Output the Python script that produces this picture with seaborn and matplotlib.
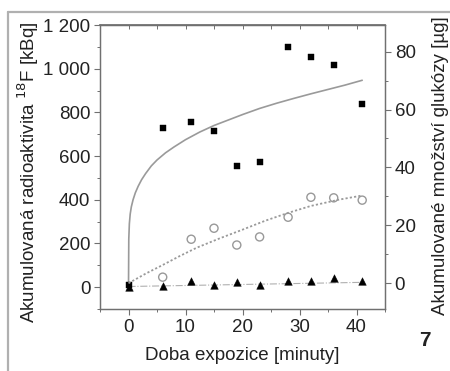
import numpy as np
import pandas as pd
import matplotlib
matplotlib.use("Agg")
import matplotlib.pyplot as plt
from matplotlib.lines import Line2D
from matplotlib.ticker import MultipleLocator, FixedLocator
import seaborn as sns

time_min = [0, 6, 11, 15, 19, 23, 28, 32, 36, 41]
activity_kbq = [10, 728, 757, 716, 553, 574, 1098, 1055, 1018, 840]
control_kbq = [2, 4, 30, 11, 25, 12, 26, 29, 41, 26]
# glucose point at t=0 is hidden under the square in the reference
glucose_time = [6, 11, 15, 19, 23, 28, 32, 36, 41]
glucose_ug = [2.1, 15.2, 19.0, 13.2, 16.0, 22.8, 29.7, 29.5, 28.7]

# Trend lines
fit_time = [0, 0.05, 0.15, 0.3, 0.5, 0.8, 1.2, 1.7, 2.3, 3, 4, 5, 6.5, 8, 10,
            12.5, 15, 17.5, 20, 23, 26, 29, 32, 35, 38, 41]
fit_activity = [0, 220, 290, 335, 368, 400, 432, 462, 492, 520, 555, 582, 615, 642, 675,
                710, 740, 765, 790, 818, 842, 864, 885, 905, 925, 947]
glucose_fit_time = [0, 3, 6, 9, 12, 16, 20, 24, 28, 32, 37, 41]
glucose_fit = [0, 3.3, 6.3, 9.4, 12.3, 15.5, 18.5, 21.6, 24.3, 26.7, 28.9, 30.3]
control_fit_time = [0, 41]
control_fit = [3, 22]

# Tick labels
left_ticks = [0, 200, 400, 600, 800, 1000, 1200]
left_labels = ["0", "200", "400", "600", "800", "1 000", "1 200"]
right_ticks = [0, 20, 40, 60, 80]
x_ticks = [0, 10, 20, 30, 40]

sns.set_theme(style="white")
plt.rcParams["font.family"] = ["Liberation Sans", "DejaVu Sans"]
plt.rcParams["font.size"] = 13.5

fig = plt.figure(figsize=(4.5, 3.71), dpi=100)
ax = fig.add_axes([100 / 450, 1 - 309 / 371, 285 / 450, 284 / 371])
ax2 = ax.twinx()

spine_col = "#707070"
text_col = "#222222"
fs = 13.5

# Curves
sns.lineplot(x=fit_time, y=fit_activity, ax=ax, color="#9a9a9a", lw=1.2, sort=False)
sns.lineplot(x=control_fit_time, y=control_fit, ax=ax, color="#b0b0b0", lw=0.8,
             linestyle="-.", sort=False)
sns.lineplot(x=glucose_fit_time, y=glucose_fit, ax=ax2, color="#9a9a9a", lw=1.3,
             linestyle=(0, (1.2, 1.2)), sort=False)

# Markers
sns.scatterplot(x=glucose_time, y=glucose_ug, ax=ax2, marker="o", s=34,
                facecolor="none", edgecolor="#999999", linewidth=1.0, zorder=3)
sns.scatterplot(x=time_min, y=activity_kbq, ax=ax, marker="s", s=15,
                color="black", edgecolor="black", linewidth=0.3, zorder=4)
sns.scatterplot(x=time_min, y=control_kbq, ax=ax, marker="^", s=30,
                color="black", edgecolor="black", linewidth=0.3, zorder=4)

# Axis limits
ax.set_xlim(-5, 45)
ax.set_ylim(-100, 1200)
ax2.set_ylim(-8.9, 89.2)

# Left / bottom axis
ax.yaxis.set_major_locator(FixedLocator(left_ticks))
ax.set_yticklabels(left_labels)
ax.yaxis.set_minor_locator(MultipleLocator(100))
ax.xaxis.set_major_locator(FixedLocator(x_ticks))
ax.xaxis.set_minor_locator(MultipleLocator(5))
ax.tick_params(axis="both", which="major", direction="out", length=4, width=0.8,
               color=spine_col, labelcolor=text_col, labelsize=fs, pad=3,
               left=True, bottom=True)
ax.tick_params(axis="both", which="minor", direction="out", length=2.5, width=0.7,
               color=spine_col, left=True, bottom=True)

# Top ticks pointing inward
top = ax.secondary_xaxis("top")
top.xaxis.set_major_locator(MultipleLocator(5))
top.tick_params(direction="in", length=3, width=0.7, color=spine_col, labeltop=False)
top.spines["top"].set_color(spine_col)

# Right axis
ax2.yaxis.set_major_locator(FixedLocator(right_ticks))
ax2.yaxis.set_minor_locator(MultipleLocator(10))
ax2.tick_params(axis="y", which="major", direction="out", length=4, width=0.8,
                color=spine_col, labelcolor=text_col, labelsize=fs, pad=3, right=True)
ax2.tick_params(axis="y", which="minor", direction="out", length=2.5, width=0.7,
                color=spine_col, right=True)
ax2.grid(False)
ax.grid(False)

for a in (ax, ax2):
    for s in a.spines.values():
        s.set_color(spine_col)
        s.set_linewidth(0.9)

# Labels
ax.set_xlabel("Doba expozice [minuty]", fontsize=fs, color=text_col)
ax.xaxis.set_label_coords(0.5, -0.135)
ax.set_ylabel("Akumulovaná radioaktivita $^{18}$F [kBq]", fontsize=fs, color=text_col)
ax.yaxis.set_label_coords(-0.207, 0.48)
ax2.set_ylabel("Akumulované množství glukózy [µg]", fontsize=fs, color=text_col,
               rotation=90)
ax2.yaxis.set_label_coords(1.165, 0.505)

# Figure number and frame
fig.text(425 / 450, 1 - 340 / 371, "7", fontsize=15, fontweight="bold",
         ha="center", va="center", color=text_col)
fig.add_artist(Line2D([8 / 450, 1], [1 - 12 / 371, 1 - 12 / 371],
                      color="#b0b0b0", lw=1.6, transform=fig.transFigure))
fig.add_artist(Line2D([8 / 450, 8 / 450], [0, 1 - 12 / 371],
                      color="#b0b0b0", lw=1.6, transform=fig.transFigure))

fig.savefig("out.png", dpi=100)
